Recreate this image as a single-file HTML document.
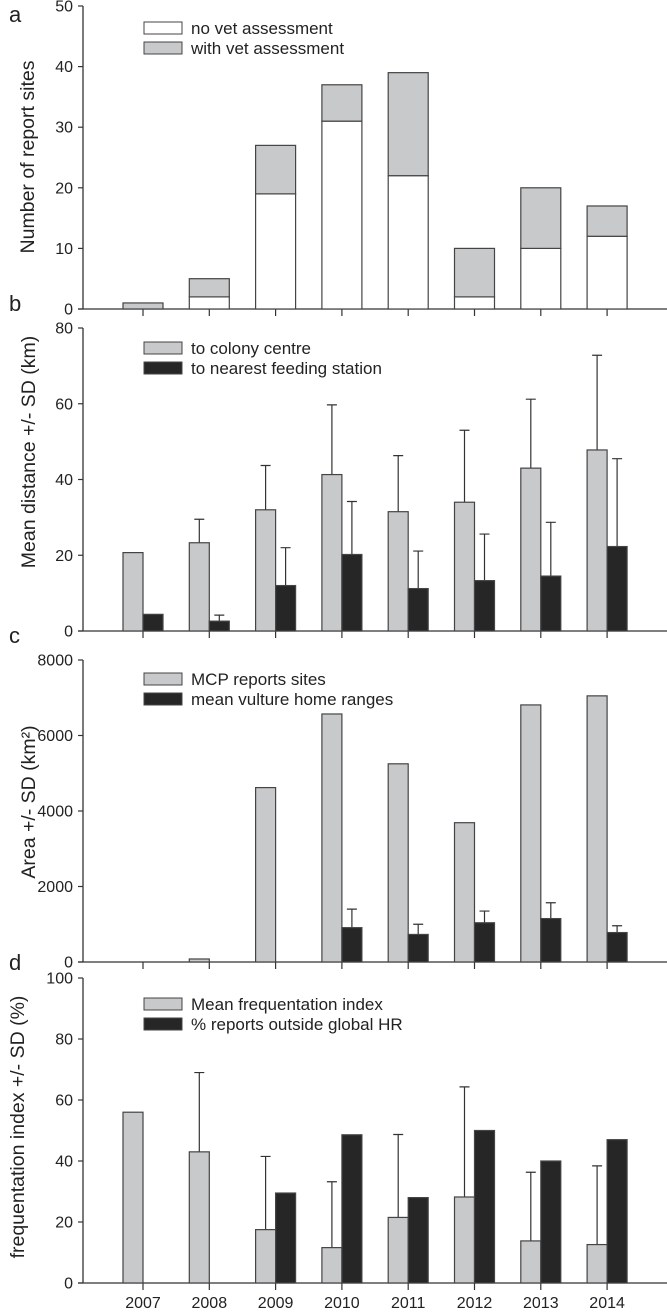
<!DOCTYPE html>
<html><head><meta charset="utf-8"><style>
html,body{margin:0;padding:0;background:#fff}
svg{display:block;font-family:"Liberation Sans",Arial,sans-serif}
</style></head><body>
<svg id="chart" width="667" height="1313" xmlns="http://www.w3.org/2000/svg"></svg>
<script>
const years = ["2007","2008","2009","2010","2011","2012","2013","2014"];
// panel a
const noVet = [0,2,19,31,22,2,10,12];
const totalReports = [1,5,27,37,39,10,20,17];
// panel b
const distColony = [20.7,23.3,32,41.3,31.5,34,43,47.8];
const distColonyTop = [null,29.5,43.7,59.7,46.3,53,61.2,72.8];
const distFeeding = [4.4,2.6,12,20.2,11.2,13.3,14.5,22.3];
const distFeedingTop = [null,4.2,22,34.2,21.1,25.6,28.7,45.5];
// panel c
const mcpArea = [0,80,4620,6570,5250,3690,6810,7050];
const homeRange = [0,0,0,910,730,1040,1150,780];
const homeRangeTop = [null,null,null,1400,1000,1350,1570,960];
// panel d
const freqIndex = [56,43,17.5,11.6,21.5,28.2,13.8,12.6];
const freqIndexTop = [null,69,41.5,33.2,48.7,64.3,36.3,38.4];
const outsideHR = [0,0,29.5,48.6,28,50,40,47];
const ticksA = [0,10,20,30,40,50];
const ticksB = [0,20,40,60,80];
const ticksC = [0,2000,4000,6000,8000];
const ticksD = [0,20,40,60,80,100];

const NS="http://www.w3.org/2000/svg";
const svg=document.getElementById('chart');
const GRAY="#c8c9cb", BLACK="#262626", STROKE="#444";
const AX=83, XR=667, X0=143, DX=66.3;
function xPos(i){return X0+i*DX;}
function mk(tag,attrs,parent){const e=document.createElementNS(NS,tag);for(const k in attrs)e.setAttribute(k,attrs[k]);(parent||svg).appendChild(e);return e;}

function panel(cfg){
  const g=mk('g',{});
  
  
  const y=v=>cfg.y0+(cfg.y1-cfg.y0)*(v/cfg.max);
  cfg.y=y;
  const L=mk('text',{x:9,y:cfg.letterY,'font-size':22,fill:'#222'},g);L.textContent=cfg.id;
  
  
  const ya=mk('line',{x1:AX,y1:cfg.y1,x2:AX,y2:cfg.y0,stroke:'#333','stroke-width':1.3},g);
  
  
  const xa=mk('line',{x1:AX-5,y1:cfg.y0,x2:XR,y2:cfg.y0,stroke:'#333','stroke-width':1.3},g);
  
  
  cfg.ticks.forEach(t=>{
    mk('line',{x1:AX-5,y1:y(t),x2:AX,y2:y(t),stroke:'#333','stroke-width':1.2},g);
    const tx=mk('text',{x:AX-10,y:y(t)+5.5,'font-size':16,'text-anchor':'end',fill:'#222'},g);tx.textContent=t;
    
    
  });
  years.forEach((yr,i)=>mk('line',{x1:xPos(i),y1:cfg.y0,x2:xPos(i),y2:cfg.y0+7,stroke:'#333','stroke-width':1.2},g));
  const tt=mk('text',{x:0,y:0,'font-size':19.5,'text-anchor':'middle',fill:'#222',transform:`translate(${cfg.titleX},${cfg.titleY}) rotate(-90)`},g);
  tt.textContent=cfg.title;
  
  
  cfg.legend.forEach((l,k)=>{
    const ly=cfg.legY+k*20;
    const r=mk('rect',{x:144,y:ly,width:38,height:12,fill:l.c,stroke:STROKE,'stroke-width':1},g);
    
    
    const t=mk('text',{x:191,y:ly+12,'font-size':17,fill:'#222'},g);t.textContent=l.t;
    
    
  });
  return g;
}
function bar(g,x,w,v0,v1,fill,y,name){
  if(v1<=v0)return;
  const r=mk('rect',{x:x,y:y(v1),width:w,height:y(v0)-y(v1),fill:fill,stroke:STROKE,'stroke-width':1.2},g);
  
  
}
function err(g,cx,v,top,y){
  if(top==null)return;
  const e=mk('path',{d:`M${cx},${y(v)}V${y(top)}M${cx-5},${y(top)}H${cx+5}`,stroke:'#333','stroke-width':1.2,fill:'none'},g);
  
  
}

const A={id:'a',y0:309,y1:6,max:50,ticks:ticksA,letterY:22,title:'Number of report sites',titleX:34,titleY:157,legY:22,
  legend:[{c:'#fff',t:'no vet assessment'},{c:GRAY,t:'with vet assessment'}]};
const ga=panel(A);
years.forEach((yr,i)=>{
  bar(ga,xPos(i)-20,40,0,noVet[i],'#fff',A.y,'bar-no-vet-'+yr);
  bar(ga,xPos(i)-20,40,noVet[i],totalReports[i],GRAY,A.y,'bar-with-vet-'+yr);
});
const B={id:'b',y0:631,y1:328,max:80,ticks:ticksB,letterY:311,title:'Mean distance +/- SD (km)',titleX:35,titleY:452,legY:342,
  legend:[{c:GRAY,t:'to colony centre'},{c:BLACK,t:'to nearest feeding station'}]};
const gb=panel(B);
years.forEach((yr,i)=>{
  err(gb,xPos(i)-10,distColony[i],distColonyTop[i],B.y);
  err(gb,xPos(i)+10,distFeeding[i],distFeedingTop[i],B.y);
  bar(gb,xPos(i)-20,20,0,distColony[i],GRAY,B.y,'bar-colony-'+yr);
  bar(gb,xPos(i),20,0,distFeeding[i],BLACK,B.y,'bar-feeding-'+yr);
});
const C={id:'c',y0:962,y1:660,max:8000,ticks:ticksC,letterY:643,title:'Area +/- SD (km²)',titleX:35,titleY:802,legY:673,
  legend:[{c:GRAY,t:'MCP reports sites'},{c:BLACK,t:'mean vulture home ranges'}]};
const gc=panel(C);
years.forEach((yr,i)=>{
  err(gc,xPos(i)+10,homeRange[i],homeRangeTop[i],C.y);
  bar(gc,xPos(i)-20,20,0,mcpArea[i],GRAY,C.y,'bar-mcp-'+yr);
  bar(gc,xPos(i),20,0,homeRange[i],BLACK,C.y,'bar-home-range-'+yr);
});
const D={id:'d',y0:1283,y1:978,max:100,ticks:ticksD,letterY:970,title:'frequentation index +/- SD (%)',titleX:24,titleY:1127,legY:998,
  legend:[{c:GRAY,t:'Mean frequentation index'},{c:BLACK,t:'% reports outside global HR'}]};
const gd=panel(D);
years.forEach((yr,i)=>{
  err(gd,xPos(i)-10,freqIndex[i],freqIndexTop[i],D.y);
  bar(gd,xPos(i)-20,20,0,freqIndex[i],GRAY,D.y,'bar-freq-'+yr);
  bar(gd,xPos(i),20,0,outsideHR[i],BLACK,D.y,'bar-outside-hr-'+yr);
  const t=mk('text',{x:xPos(i),y:1308,'font-size':16,'text-anchor':'middle',fill:'#222'},gd);
  t.textContent=yr;
  
  
});
</script>
</body></html>
